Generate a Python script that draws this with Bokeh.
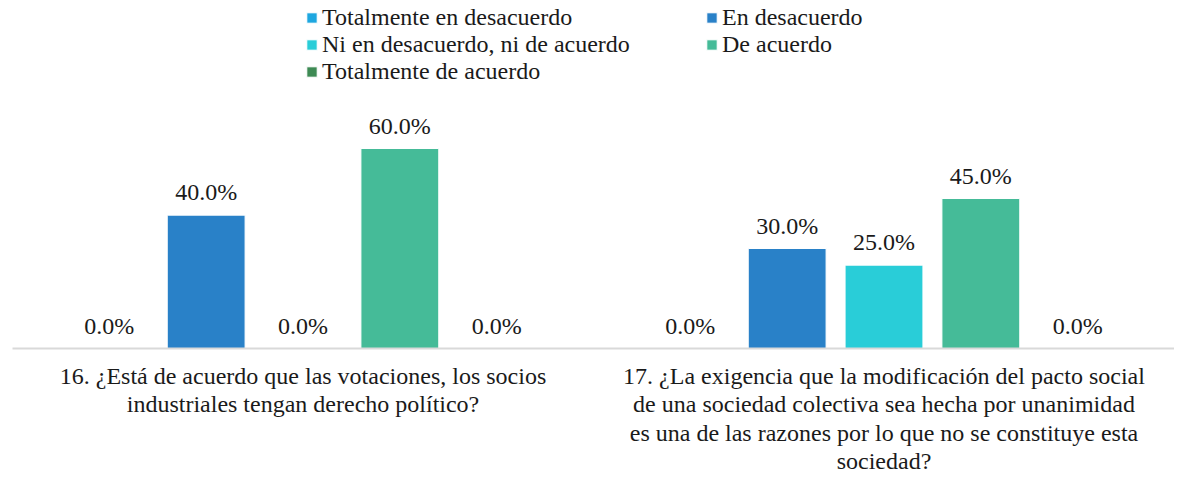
from bokeh.plotting import figure
from bokeh.models import (FactorRange, Range1d, ColumnDataSource, LabelSet, Legend, LegendItem)
from bokeh.transform import dodge
from bokeh.embed import file_html
from bokeh.resources import INLINE

questions = [
    "16. ¿Está de acuerdo que las votaciones, los socios\nindustriales tengan derecho político?",
    "17. ¿La exigencia que la modificación del pacto social\nde una sociedad colectiva sea hecha por unanimidad\nes una de las razones por lo que no se constituye esta\nsociedad?",
]
responses = ["Totalmente en desacuerdo", "En desacuerdo", "Ni en desacuerdo, ni de acuerdo",
             "De acuerdo", "Totalmente de acuerdo"]
totalmente_en_desacuerdo = [0.0, 0.0]
en_desacuerdo = [40.0, 30.0]
ni_desacuerdo_ni_acuerdo = [0.0, 25.0]
de_acuerdo = [60.0, 45.0]
totalmente_de_acuerdo = [0.0, 0.0]
series = [totalmente_en_desacuerdo, en_desacuerdo, ni_desacuerdo_ni_acuerdo,
          de_acuerdo, totalmente_de_acuerdo]
colors = ["#1ea7e0", "#2981c8", "#29cdd8", "#45bb98", "#3e8a54"]

FONT = "'Liberation Serif', serif"
FS = "24px"

p = figure(x_range=FactorRange(factors=questions, range_padding=0),
           y_range=Range1d(0, 104.4),
           width=1174, height=478, output_backend="svg", toolbar_location=None,
           min_border_left=12, min_border_right=0, min_border_top=0, min_border_bottom=130)
p.outline_line_color = None
p.grid.visible = False
p.yaxis.visible = False

offsets = [-2/6, -1/6, 0, 1/6, 2/6]
items = []
for name, vals, col, off in zip(responses, series, colors, offsets):
    src = ColumnDataSource(dict(q=questions, v=vals, lab=[f"{x:.1f}%" for x in vals]))
    r = p.vbar(x=dodge("q", off, range=p.x_range), top="v", width=0.134, source=src,
               fill_color=col, line_color="white", line_width=1)
    items.append(LegendItem(label=name, renderers=[r]))
    p.add_layout(LabelSet(x=dodge("q", off, range=p.x_range), y="v", text="lab", source=src,
                          y_offset=10, text_align="center", text_baseline="bottom",
                          text_font=FONT, text_font_size=FS, text_color="#1a1a1a"))

# legend is laid out column-major: reorder so rows read left-to-right
order = [0, 2, 4, 1, 3]
legend = Legend(items=[items[i] for i in order], ncols=2, location=(293, 263),
                label_text_font=FONT, label_text_font_size=FS, label_text_color="#1a1a1a",
                glyph_width=13, glyph_height=13, label_standoff=4, label_width=383,
                label_height=24, spacing=0, padding=0, margin=0,
                border_line_color=None, background_fill_alpha=0)
p.add_layout(legend, "center")

ax = p.xaxis[0]
ax.axis_line_color = "#d9d9d9"
ax.axis_line_width = 2
ax.major_tick_line_color = None
ax.minor_tick_line_color = None
ax.major_label_standoff = 8
ax.major_label_text_font = FONT
ax.major_label_text_font_size = FS
ax.major_label_text_color = "#1a1a1a"
ax.major_label_text_line_height = 1.1

open("out.html", "w").write(file_html(p, INLINE))
